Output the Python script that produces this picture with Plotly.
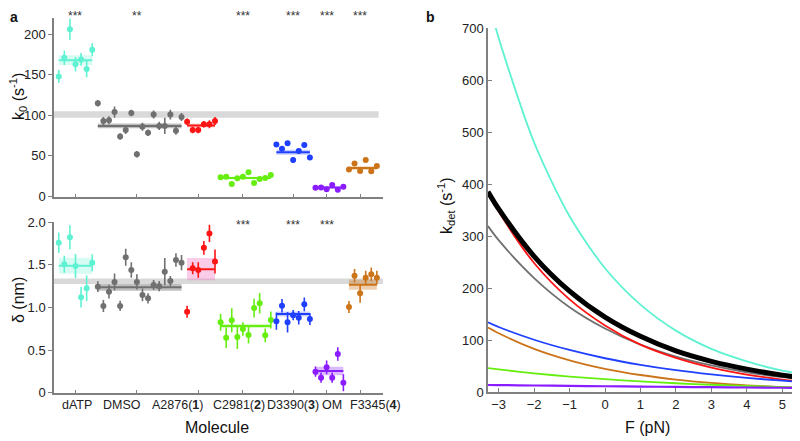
import plotly.graph_objects as go

# ---------------- data (panel a) ----------------
GROUPS = ["dATP", "DMSO", "A2876(1)", "C2981(2)", "D3390(3)", "OM", "F3345(4)"]
TICK_LABELS = ["dATP", "DMSO", "A2876(<b>1</b>)", "C2981(<b>2</b>)",
               "D3390(<b>3</b>)", "OM", "F3345(<b>4</b>)"]
TICK_POS = [3, 14, 25, 33, 42, 48, 54]

K0_DATP = [148, 171, 206, 163, 169, 157, 181]
K0_DMSO = [115, 93, 94, 104, 74, 82, 103, 52, 86, 78.5, 101, 87, 87, 101, 81, 98]
K0_A2876 = [92, 82, 82, 89, 89, 93]
K0_C2981 = [23.6, 24.4, 15.4, 22.4, 24.4, 29.8, 16.6, 21.5, 22.8, 26.5]
K0_D3390 = [64, 59, 65.5, 45, 56, 63.4, 48]
K0_OM = [10.8, 11, 8.8, 14.2, 8.4, 12]
K0_F3345 = [33.4, 40.8, 31.4, 45, 31, 37.5]

K0_ERR_DATP = [8, 9, 13, 9, 8, 10, 8]
K0_ERR_DMSO = [4, 5, 5, 7, 4, 5, 4, 4, 5, 4, 5, 5, 10, 6, 5, 5]
K0_ERR_A2876 = [4, 4, 4, 4, 5, 5]
K0_ERR_C2981 = [2] * 10
K0_ERR_D3390 = [3] * 7
K0_ERR_OM = [1.5] * 6
K0_ERR_F3345 = [2.5] * 6

K0_MEAN = [168, 87, 87.5, 22.8, 54.5, 11, 35]
K0_SEM = [6, 3, 2.5, 1.5, 3, 1.2, 2.2]
K0_REF, K0_REF_SEM = 101, 4

D_DATP = [1.76, 1.507, 1.824, 1.487, 1.12, 1.225, 1.526]
D_DMSO = [1.245, 1.018, 1.186, 1.30, 1.018, 1.59, 1.44, 1.30, 1.147, 1.108,
          1.264, 1.25, 1.42, 1.31, 1.557, 1.526]
D_A2876 = [0.95, 1.46, 1.44, 1.70, 1.87, 1.54]
D_C2981 = [0.826, 0.646, 0.85, 0.654, 0.748, 0.677, 0.994, 1.05, 0.673, 0.853]
D_D3390 = [0.84, 1.02, 0.826, 0.91, 0.88, 1.037, 0.865]
D_OM = [0.247, 0.176, 0.298, 0.176, 0.454, 0.117]
D_F3345 = [1.006, 1.373, 1.166, 1.35, 1.39, 1.35]

D_ERR_DATP = [0.12, 0.1, 0.14, 0.14, 0.12, 0.15, 0.1]
D_ERR_DMSO = [0.063, 0.07, 0.08, 0.1, 0.06, 0.1, 0.09, 0.09, 0.075, 0.06,
              0.06, 0.06, 0.16, 0.06, 0.08, 0.09]
D_ERR_A2876 = [0.07, 0.07, 0.09, 0.08, 0.1, 0.14]
D_ERR_C2981 = [0.1, 0.12, 0.14, 0.14, 0.08, 0.1, 0.11, 0.12, 0.08, 0.1]
D_ERR_D3390 = [0.1, 0.08, 0.12, 0.06, 0.08, 0.08, 0.07]
D_ERR_OM = [0.06, 0.06, 0.08, 0.06, 0.08, 0.1]
D_ERR_F3345 = [0.07, 0.08, 0.11, 0.08, 0.08, 0.08]

D_MEAN = [1.49, 1.237, 1.45, 0.783, 0.924, 0.255, 1.268]
D_SEM = [0.095, 0.04, 0.13, 0.025, 0.03, 0.05, 0.06]
D_REF, D_REF_SEM = 1.308, 0.033

K0_STARS = {"dATP": "***", "DMSO": "**", "C2981(2)": "***", "D3390(3)": "***",
            "OM": "***", "F3345(4)": "***"}
D_STARS = {"C2981(2)": "***", "D3390(3)": "***", "OM": "***"}

# ---------------- data (panel b) ----------------
F_PN = [-3.3, -3, -2, -1, 0, 1, 2, 3, 4, 5, 5.5]
KDET_DATP = [756, 681, 480, 338, 238, 168, 118, 83, 59, 41, 35]
KDET_DMSO = [319, 292, 219, 163, 122, 91, 68, 51, 38, 28.5, 24.6]
KDET_A2876 = [383, 347, 248, 178, 128, 91, 65.5, 47, 33.6, 24, 20.4]
KDET_D3390 = [134, 125, 100.5, 80.8, 64.9, 52.2, 41.9, 33.7, 27.1, 21.8, 19.3]
KDET_F3345 = [124, 113, 83, 61, 44.6, 32.7, 24, 17.6, 12.9, 9.4, 8.1]
KDET_C2981 = [46, 43.4, 35.9, 29.7, 24.6, 20.3, 16.8, 13.9, 11.5, 9.5, 8.6]
KDET_OM = [13.5, 13.3, 12.5, 11.8, 11.1, 10.4, 9.8, 9.2, 8.7, 8.2, 7.9]
KDET_REF = [385, 352, 261, 194, 144, 107, 79, 59, 44, 32.5, 28]

# ---------------- styles / layout ----------------
COLORS = ["#5ff2d2", "#707070", "#ff1414", "#66ee10", "#1f40ff", "#8a1cff", "#cc7418"]
BANDS_K = ["rgba(95,242,210,0.25)", "rgba(112,112,112,0.45)", "rgba(255,20,20,0.2)",
           "rgba(102,238,16,0.25)", "rgba(31,64,255,0.25)", "rgba(138,28,255,0.25)",
           "rgba(204,116,24,0.3)"]
BANDS_D = ["rgba(95,242,210,0.25)", "rgba(112,112,112,0.45)", "rgba(240,110,190,0.35)",
           "rgba(102,238,16,0.25)", "rgba(31,64,255,0.25)", "rgba(138,28,255,0.3)",
           "rgba(204,116,24,0.35)"]
FONT = "Arial, Liberation Sans, sans-serif"
AXC = "#808080"
# screen x-centres of category labels (they are not centred on ticks in the original)
LABEL_X = [77, 122, 177.5, 239.5, 293, 332, 375.5]

# page body has an 8px margin: figure is 792x433 drawn at (8, 8)
OFF = 8
W, H = 800 - OFF, 441 - OFF
def sx(s):
    return (s - OFF) / W
def sy(s):
    return 1 - (s - OFF) / H

K0_VALS = [K0_DATP, K0_DMSO, K0_A2876, K0_C2981, K0_D3390, K0_OM, K0_F3345]
K0_ERRS = [K0_ERR_DATP, K0_ERR_DMSO, K0_ERR_A2876, K0_ERR_C2981, K0_ERR_D3390,
           K0_ERR_OM, K0_ERR_F3345]
D_VALS = [D_DATP, D_DMSO, D_A2876, D_C2981, D_D3390, D_OM, D_F3345]
D_ERRS = [D_ERR_DATP, D_ERR_DMSO, D_ERR_A2876, D_ERR_C2981, D_ERR_D3390,
          D_ERR_OM, D_ERR_F3345]

fig = go.Figure()
shapes = [
    dict(type="rect", xref="x2", yref="y2", x0=-0.85, x1=58.1,
         y0=D_REF - D_REF_SEM, y1=D_REF + D_REF_SEM,
         fillcolor="#d9d9d9", line=dict(width=0), layer="below"),
    dict(type="rect", xref="x", yref="y", x0=-0.85, x1=57.3,
         y0=K0_REF - K0_REF_SEM, y1=K0_REF + K0_REF_SEM,
         fillcolor="#d9d9d9", line=dict(width=0), layer="below"),
]

start = 0
for g in range(len(GROUPS)):
    n = len(K0_VALS[g])
    xs = list(range(start, start + n))
    for (vals, errs, mean, sem, band, xa, ya) in [
        (K0_VALS[g], K0_ERRS[g], K0_MEAN[g], K0_SEM[g], BANDS_K[g], "x", "y"),
        (D_VALS[g], D_ERRS[g], D_MEAN[g], D_SEM[g], BANDS_D[g], "x2", "y2"),
    ]:
        shapes.append(dict(type="rect", xref=xa, yref=ya, x0=xs[0], x1=xs[-1],
                           y0=mean - sem, y1=mean + sem, fillcolor=band,
                           line=dict(width=0), layer="below"))
        fig.add_trace(go.Scatter(x=[xs[0], xs[-1]], y=[mean, mean], mode="lines",
                                 line=dict(color=COLORS[g], width=2),
                                 xaxis=xa, yaxis=ya, showlegend=False, hoverinfo="skip"))
        fig.add_trace(go.Scatter(x=xs, y=vals, mode="markers", name=GROUPS[g],
                                 marker=dict(color=COLORS[g], size=6),
                                 error_y=dict(type="data", array=errs, color=COLORS[g],
                                              thickness=1.6, width=0),
                                 xaxis=xa, yaxis=ya, showlegend=False))
    start += n

# panel b curves
for ys, col, w in [(KDET_DATP, COLORS[0], 1.8), (KDET_DMSO, COLORS[1], 1.8),
                   (KDET_A2876, COLORS[2], 1.8), (KDET_D3390, COLORS[4], 1.8),
                   (KDET_F3345, COLORS[6], 1.8), (KDET_C2981, COLORS[3], 1.8),
                   (KDET_OM, COLORS[5], 2.2), (KDET_REF, "#000000", 5)]:
    fig.add_trace(go.Scatter(x=F_PN, y=ys, mode="lines",
                             line=dict(color=col, width=w, shape="spline", smoothing=0.8),
                             xaxis="x3", yaxis="y3", showlegend=False))

common = dict(showgrid=False, zeroline=False, showline=True, linecolor=AXC,
              linewidth=1.5, tickcolor=AXC, tickwidth=1.2, automargin=False,
              tickfont=dict(family=FONT, size=13, color="#222"))

ann = []
star_font = dict(family=FONT, size=12, color="#333")
for name, s in K0_STARS.items():
    ann.append(dict(x=TICK_POS[GROUPS.index(name)], y=sy(16), xref="x", yref="paper",
                    xanchor="center", yanchor="middle",
                    text=s, showarrow=False, font=star_font))
for name, s in D_STARS.items():
    ann.append(dict(x=TICK_POS[GROUPS.index(name)], y=sy(225), xref="x2", yref="paper",
                    xanchor="center", yanchor="middle",
                    text=s, showarrow=False, font=star_font))

title_font = dict(family=FONT, size=16, color="#111")
def label(x, y, text, angle=0, font=title_font):
    return dict(x=sx(x), y=sy(y), xref="paper", yref="paper", text=text,
                textangle=angle, showarrow=False, font=font,
                xanchor="center", yanchor="middle")

tick_font = dict(family=FONT, size=12.5, color="#222")
for lx, txt in zip(LABEL_X, TICK_LABELS):
    ann.append(label(lx, 405, txt, 0, tick_font))

panel_font = dict(family=FONT, size=14, color="#111")
ann += [
    label(18, 97, "k<sub>0</sub> (s<sup>-1</sup>)", -90),
    label(18, 300, "δ (nm)", -90),
    label(217, 427, "Molecule"),
    label(446, 205, "k<sub>det</sub> (s<sup>-1</sup>)", -90),
    label(647, 427, "F (pN)"),
    label(14, 17, "<b>a</b>", 0, panel_font),
    label(430, 17, "<b>b</b>", 0, panel_font),
]

fig.update_layout(
    width=W, height=H, margin=dict(l=0, r=0, t=0, b=0),
    plot_bgcolor="white", paper_bgcolor="white",
    xaxis=dict(domain=[sx(54), sx(383)], range=[-0.85, 58.1], anchor="y",
               tickvals=TICK_POS, showticklabels=False, ticks="inside", ticklen=3, **common),
    yaxis=dict(domain=[sy(196.5), sy(18)], range=[0, 220], anchor="x",
               tickvals=[0, 50, 100, 150, 200], ticks="outside", ticklen=4, **common),
    xaxis2=dict(domain=[sx(54), sx(383)], range=[-0.85, 58.1], anchor="y2",
                tickvals=TICK_POS, showticklabels=False, ticks="inside", ticklen=3, **common),
    yaxis2=dict(domain=[sy(392.7), sy(222.3)], range=[0, 2.0], anchor="x2",
                tickvals=[0, 0.5, 1.0, 1.5, 2.0], ticktext=["0", "0.5", "1.0", "1.5", "2.0"],
                ticks="outside", ticklen=4, **common),
    xaxis3=dict(domain=[sx(488), 1.0], range=[-3.3, 5.5], anchor="y3",
                tickvals=[-3, -2, -1, 0, 1, 2, 3, 4, 5], ticks="inside", ticklen=4, **common),
    yaxis3=dict(domain=[sy(392), sy(28)], range=[0, 700], anchor="x3",
                tickvals=[0, 100, 200, 300, 400, 500, 600, 700], ticks="inside", ticklen=4,
                **common),
    shapes=shapes, annotations=ann,
)

fig.write_html("out.html")
